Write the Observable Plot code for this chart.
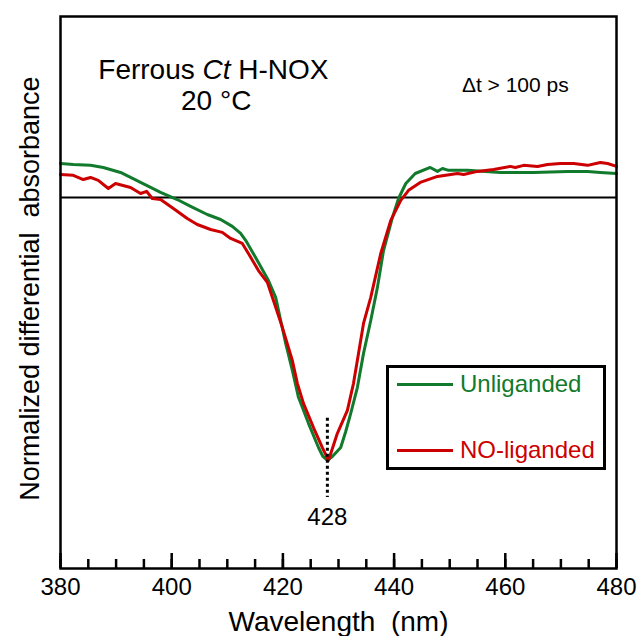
<!DOCTYPE html>
<html><head><meta charset="utf-8">
<script src="https://cdn.jsdelivr.net/npm/d3@7"></script>
<script src="https://cdn.jsdelivr.net/npm/@observablehq/plot@0.6"></script>
<style>
body{margin:0;background:#fff;font-family:"Liberation Sans",Arial,sans-serif;}
#chart{position:relative;width:638px;height:636px;overflow:hidden;}
#chart svg text{white-space:pre;}
.legend{position:absolute;left:386px;top:365px;width:220px;height:105px;box-sizing:border-box;border:3px solid #000;background:#fff;}
.legend .item{position:absolute;left:8px;height:30px;display:flex;align-items:center;font-size:24px;}
.legend .swatch{width:56px;height:3px;margin-right:7px;}
</style></head><body>
<div id="chart"></div>
<script>
// Data (normalized differential absorbance)
const unligandedWl  = [380,382.3,385.4,387.7,390.8,394.4,398.0,401.0,403.4,406.4,408.8,410.9,412.4,413.3,415.6,417.4,418.7,419.6,420.5,421.7,422.8,424.6,426.4,427.2,428.0,428.9,430.4,431.3,432.2,433.4,434.5,435.8,437.0,438.1,439.7,440.8,442.1,443.8,446.5,447.8,448.7,449.8,453.2,459.1,465.1,471.2,474.8,477.1,480];
const unligandedAbs = [0.129,0.125,0.122,0.114,0.095,0.057,0.019,-0.008,-0.034,-0.065,-0.084,-0.110,-0.137,-0.163,-0.247,-0.316,-0.380,-0.468,-0.555,-0.658,-0.760,-0.859,-0.951,-0.985,-1.0,-0.985,-0.951,-0.89,-0.821,-0.722,-0.593,-0.468,-0.342,-0.202,-0.076,-0.004,0.053,0.091,0.114,0.099,0.110,0.103,0.103,0.095,0.095,0.099,0.099,0.095,0.091];
const noLigandedWl  = [380,382.3,384.1,385.4,386.8,388.6,389.9,392.6,394.4,395.5,396.5,398.0,400.3,402.8,404.6,407.0,409.1,410.6,412.7,413.8,415.6,417.2,418.3,419.9,421.7,422.6,423.7,425.5,427.1,428.2,429.8,431.6,432.7,433.6,434.5,435.8,437.6,439.4,441.2,442.6,444.7,447.8,451.4,452.5,455.0,457.9,460.9,461.8,463.3,465.8,467.6,469.9,472.3,474.8,477.1,478.4,480];
const noLigandedAbs = [0.087,0.084,0.068,0.076,0.065,0.034,0.053,0.038,0.015,0.023,-0.004,-0.008,-0.042,-0.080,-0.103,-0.122,-0.133,-0.156,-0.175,-0.213,-0.278,-0.323,-0.392,-0.494,-0.620,-0.707,-0.783,-0.875,-0.951,-1.0,-0.897,-0.810,-0.707,-0.593,-0.479,-0.380,-0.213,-0.087,-0.011,0.027,0.057,0.080,0.091,0.087,0.099,0.106,0.118,0.114,0.122,0.118,0.125,0.129,0.129,0.122,0.133,0.129,0.118];
const seriesNames  = ["Unliganded", "NO-liganded"];
const seriesColors = ["#127a2c", "#cc0000"];
const xTickLabels  = [380, 400, 420, 440, 460, 480];
const peakWl = 428;
const peakLabel = "428";

const rowsOf = (wl, ab) => wl.map((w, i) => ({wl: w, abs: ab[i]}));
const unligRows = rowsOf(unligandedWl, unligandedAbs);
const noRows = rowsOf(noLigandedWl, noLigandedAbs);
const minorTicks = d3.range(380, 481, 5);

const plot = Plot.plot({
  width: 638, height: 636,
  marginTop: 16, marginRight: 22, marginBottom: 68, marginLeft: 60,
  style: {fontFamily: '"Liberation Sans", Arial, sans-serif', background: "#fff", color: "#000", overflow: "visible"},
  x: {domain: [380, 480]},
  y: {domain: [-1.411, 0.688], axis: null},
  marks: [
    Plot.ruleY([0], {stroke: "#000", strokeWidth: 2}),
    Plot.line(unligRows, {x: "wl", y: "abs", stroke: seriesColors[0], strokeWidth: 3}),
    Plot.line(noRows, {x: "wl", y: "abs", stroke: seriesColors[1], strokeWidth: 3}),
    Plot.ruleX([peakWl], {y1: -0.84, y2: -1.141, stroke: "#000", strokeWidth: 3, strokeDasharray: "3,3"}),
    Plot.text([peakLabel], {x: peakWl, y: -1.217, text: d => d, fontSize: 24, fill: "#000"}),
    Plot.axisX(minorTicks, {tickSize: -9, strokeWidth: 2.5, text: null, label: null}),
    Plot.axisX(xTickLabels, {tickSize: -15, strokeWidth: 2.5, tickPadding: 24, fontSize: 24, fill: "#000", label: null}),
    Plot.frame({stroke: "#000", strokeWidth: 2.5}),
    Plot.text(["Ferrous Ct H-NOX"], {x: 407.5, y: 0.483, text: d => d, fontSize: 28, fill: "#000"}),
    Plot.text(["20 °C"], {x: 408, y: 0.365, text: d => d, fontSize: 28, fill: "#000"}),
    Plot.text(["\u0394t > 100 ps"], {x: 461.8, y: 0.426, text: d => d, fontSize: 21, fill: "#000"}),
    Plot.text(["Wavelength  (nm)"], {frameAnchor: "bottom", lineAnchor: "bottom", dy: 62, text: d => d, fontSize: 28, fill: "#000"}),
    Plot.text(["Normalized differential  absorbance"], {frameAnchor: "left", textAnchor: "middle", dx: -30, dy: -4, rotate: -90, text: d => d, fontSize: 27, fill: "#000"})
  ]
});

// italic "Ct"
d3.select(plot).selectAll("text").each(function() {
  if (this.textContent === "Ferrous Ct H-NOX") {
    const t = d3.select(this);
    t.text(null);
    t.append("tspan").text("Ferrous ");
    t.append("tspan").attr("font-style", "italic").text("Ct");
    t.append("tspan").text(" H-NOX");
  }
});

const chart = document.getElementById("chart");
chart.appendChild(plot);

// legend
const legend = document.createElement("div");
legend.className = "legend";
seriesNames.forEach((name, i) => {
  const item = document.createElement("div");
  item.className = "item";
  item.style.top = (i === 0 ? 1 : 67) + "px";
  const sw = document.createElement("div");
  sw.className = "swatch";
  sw.style.background = seriesColors[i];
  const lab = document.createElement("span");
  lab.textContent = name;
  lab.style.color = seriesColors[i];
  item.appendChild(sw); item.appendChild(lab);
  legend.appendChild(item);
});
chart.appendChild(legend);
</script>
</body></html>
